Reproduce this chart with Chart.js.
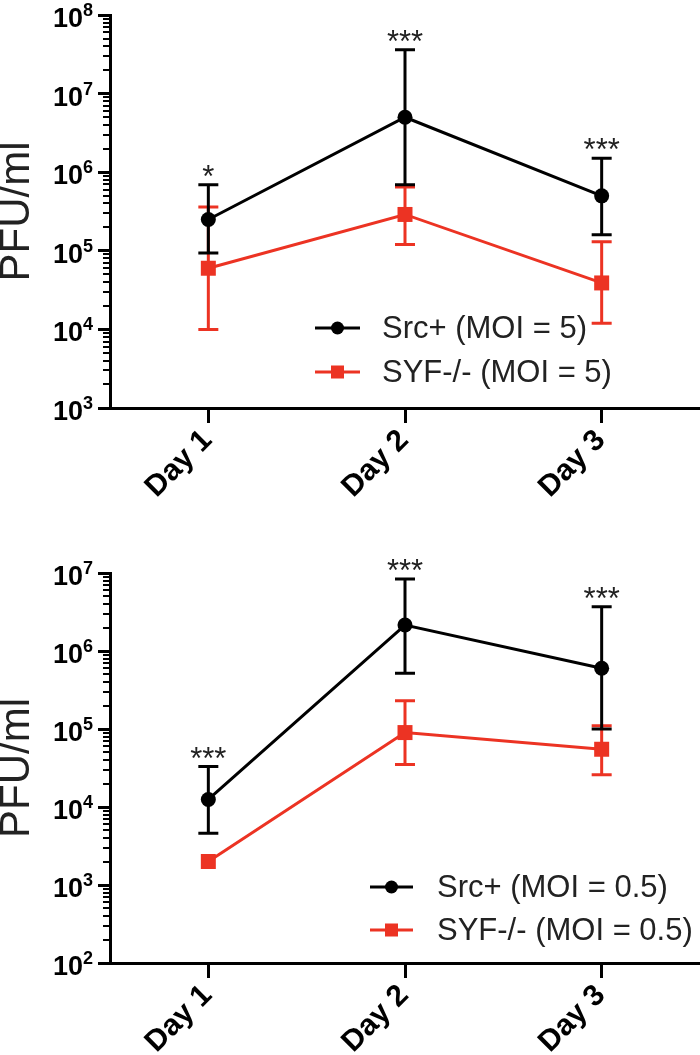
<!DOCTYPE html>
<html>
<head>
<meta charset="utf-8">
<script src="https://cdn.jsdelivr.net/npm/chart.js@4"></script>
<style>
  html, body { margin: 0; padding: 0; background: #fff; overflow: hidden; }
  .panel { position: relative; width: 700px; }
  canvas { display: block; }
</style>
</head>
<body>
<div class="panel" style="height:520px"><canvas id="chartTop"></canvas></div>
<div class="panel" style="height:535px"><canvas id="chartBottom"></canvas></div>
<script>
// --- DATA ---
const days = ['Day 1', 'Day 2', 'Day 3'];

// top panel, MOI = 5
const srcMoi5 = [2.5e5, 5.0e6, 5.0e5];
const srcMoi5Lo = [9.4e4, 6.9e5, 1.6e5];
const srcMoi5Hi = [6.9e5, 3.6e7, 1.5e6];
const syfMoi5 = [6.0e4, 2.9e5, 3.9e4];
const syfMoi5Lo = [1.0e4, 1.2e5, 1.2e4];
const syfMoi5Hi = [3.6e5, 6.5e5, 1.3e5];
const starsMoi5 = ['*', '***', '***'];

// bottom panel, MOI = 0.5
const srcMoi05 = [1.25e4, 2.15e6, 6.0e5];
const srcMoi05Lo = [4.6e3, 5.2e5, 1.0e5];
const srcMoi05Hi = [3.3e4, 8.4e6, 3.7e6];
const syfMoi05 = [2.0e3, 9.0e4, 5.5e4];
const syfMoi05Lo = [null, 3.5e4, 2.6e4];
const syfMoi05Hi = [null, 2.3e5, 1.1e5];
const starsMoi05 = ['***', '***', '***'];

const FONT = "'Liberation Sans', Arial, Helvetica, sans-serif";
const BLACK = '#000000';
const RED = '#ec3323';
Chart.defaults.font.family = FONT;

// --- PLUGINS ---
// error bars, drawn just before each dataset so markers sit on top
const errorBars = {
  id: 'errorBars',
  beforeDatasetDraw(chart, args) {
    const ds = chart.data.datasets[args.index];
    const y = chart.scales.y;
    const ctx = chart.ctx;
    ctx.save();
    ctx.strokeStyle = ds.borderColor;
    ctx.lineWidth = 3;
    args.meta.data.forEach((pt, i) => {
      const lo = ds.errLo[i], hi = ds.errHi[i];
      if (lo == null || hi == null) return;
      const yl = y.getPixelForValue(lo), yh = y.getPixelForValue(hi);
      ctx.beginPath();
      ctx.moveTo(pt.x, yl); ctx.lineTo(pt.x, yh);
      ctx.moveTo(pt.x - 10, yl); ctx.lineTo(pt.x + 10, yl);
      ctx.moveTo(pt.x - 10, yh); ctx.lineTo(pt.x + 10, yh);
      ctx.stroke();
    });
    ctx.restore();
  }
};

// significance stars above the Src+ error bars
const stars = {
  id: 'stars',
  afterDatasetsDraw(chart, args, opts) {
    const ds = chart.data.datasets[0];
    const meta = chart.getDatasetMeta(0);
    const y = chart.scales.y;
    const ctx = chart.ctx;
    ctx.save();
    ctx.font = '31px ' + FONT;
    ctx.fillStyle = '#222';
    ctx.textAlign = 'center';
    ctx.textBaseline = 'alphabetic';
    meta.data.forEach((pt, i) => {
      ctx.fillText(opts.labels[i], pt.x, y.getPixelForValue(ds.errHi[i]) + 2);
    });
    ctx.restore();
  }
};

// log axis: 10^n labels with superscripts, plus minor ticks
const logAxis = {
  id: 'logAxis',
  afterDraw(chart) {
    const s = chart.scales.y;
    const ctx = chart.ctx;
    ctx.save();
    ctx.strokeStyle = BLACK;
    ctx.lineWidth = 2;
    const lo = Math.round(Math.log10(s.min)), hi = Math.round(Math.log10(s.max));
    for (let n = lo; n < hi; n++) {
      for (let k = 2; k <= 9; k++) {
        const py = Math.round(s.getPixelForValue(k * Math.pow(10, n)));
        ctx.beginPath();
        ctx.moveTo(s.right - 7, py);
        ctx.lineTo(s.right, py);
        ctx.stroke();
      }
    }
    ctx.fillStyle = BLACK;
    ctx.textAlign = 'right';
    ctx.textBaseline = 'alphabetic';
    s.ticks.forEach(t => {
      const py = s.getPixelForValue(t.value);
      const exp = String(Math.round(Math.log10(t.value)));
      const supX = s.right - 17;
      ctx.font = 'bold 18px ' + FONT;
      ctx.fillText(exp, supX, py + 1);
      const w = ctx.measureText(exp).width;
      ctx.font = 'bold 27px ' + FONT;
      ctx.fillText('10', supX - w, py + 12);
    });
    ctx.restore();
  }
};

// legend drawn inside the plot
const insideLegend = {
  id: 'insideLegend',
  afterDraw(chart, args, opts) {
    const ctx = chart.ctx;
    ctx.save();
    chart.data.datasets.forEach((ds, i) => {
      const y = opts.y + i * opts.gap;
      const mid = opts.x + opts.lineLen / 2;
      ctx.strokeStyle = ds.borderColor;
      ctx.fillStyle = ds.borderColor;
      ctx.lineWidth = 3;
      ctx.beginPath();
      ctx.moveTo(opts.x, y); ctx.lineTo(opts.x + opts.lineLen, y);
      ctx.stroke();
      if (ds.pointStyle === 'rect') {
        ctx.fillRect(mid - 6.5, y - 6.5, 13, 13);
      } else {
        ctx.beginPath();
        ctx.arc(mid, y, 6.5, 0, Math.PI * 2);
        ctx.fill();
      }
      ctx.font = '31px ' + FONT;
      ctx.fillStyle = '#222';
      ctx.textAlign = 'left';
      ctx.textBaseline = 'middle';
      ctx.fillText(ds.label, opts.textX, y + 1);
    });
    ctx.restore();
  }
};

// --- CHART BUILDER ---
function buildChart(id, cfg) {
  const decades = [];
  for (let v = cfg.yMin; v <= cfg.yMax * 1.0001; v *= 10) decades.push(v);

  return new Chart(document.getElementById(id), {
    type: 'line',
    data: {
      labels: days,
      datasets: [
        {
          label: cfg.srcLabel, data: cfg.src, errLo: cfg.srcLo, errHi: cfg.srcHi,
          borderColor: BLACK, backgroundColor: BLACK, borderWidth: 3,
          pointStyle: 'circle', pointRadius: 7.5, pointBorderWidth: 0, tension: 0, clip: false
        },
        {
          label: cfg.syfLabel, data: cfg.syf, errLo: cfg.syfLo, errHi: cfg.syfHi,
          borderColor: RED, backgroundColor: RED, borderWidth: 3,
          pointStyle: 'rect', pointRadius: 10.6, pointBorderWidth: 0, tension: 0, clip: false
        }
      ]
    },
    options: {
      responsive: true,
      maintainAspectRatio: false,
      animation: false,
      events: [],
      layout: { autoPadding: false, padding: { top: cfg.padTop, right: 0, left: 0, bottom: 0 } },
      plugins: {
        legend: { display: false },
        tooltip: { enabled: false },
        stars: { labels: cfg.stars },
        insideLegend: cfg.legend
      },
      scales: {
        x: {
          type: 'category',
          offset: true,
          afterFit: s => { s.height = cfg.xHeight; s.paddingLeft = 0; s.paddingRight = 0; },
          grid: { offset: false, drawOnChartArea: false, drawTicks: true, tickLength: 15, tickWidth: 3, tickColor: BLACK },
          border: { display: true, color: BLACK, width: 3 },
          ticks: {
            color: BLACK, font: { size: 30, weight: 'bold' },
            minRotation: 45, maxRotation: 45, padding: 0, labelOffset: -1, autoSkip: false
          }
        },
        y: {
          type: 'logarithmic',
          min: cfg.yMin,
          max: cfg.yMax,
          afterBuildTicks: s => { s.ticks = decades.map(v => ({ value: v })); },
          afterFit: s => { s.width = 110; },
          grid: { drawOnChartArea: false, drawTicks: true, tickLength: 12, tickWidth: 3, tickColor: BLACK },
          border: { display: true, color: BLACK, width: 3 },
          ticks: { display: false },
          title: {
            display: true, text: 'PFU/ml', color: '#222',
            font: { size: 42, weight: 'normal', lineHeight: 0.85 },
            padding: { top: 0, bottom: 0 }
          }
        }
      }
    },
    plugins: [errorBars, stars, logAxis, insideLegend]
  });
}

buildChart('chartTop', {
  src: srcMoi5, srcLo: srcMoi5Lo, srcHi: srcMoi5Hi,
  syf: syfMoi5, syfLo: syfMoi5Lo, syfHi: syfMoi5Hi,
  srcLabel: 'Src+ (MOI = 5)', syfLabel: 'SYF-/- (MOI = 5)',
  stars: starsMoi5,
  yMin: 1e3, yMax: 1e8,
  padTop: 15, xHeight: 112,
  legend: { x: 315, y: 328, gap: 44, lineLen: 45, textX: 382 }
});

buildChart('chartBottom', {
  src: srcMoi05, srcLo: srcMoi05Lo, srcHi: srcMoi05Hi,
  syf: syfMoi05, syfLo: syfMoi05Lo, syfHi: syfMoi05Hi,
  srcLabel: 'Src+ (MOI = 0.5)', syfLabel: 'SYF-/- (MOI = 0.5)',
  stars: starsMoi05,
  yMin: 1e2, yMax: 1e7,
  padTop: 53, xHeight: 92,
  legend: { x: 370, y: 367, gap: 43, lineLen: 43, textX: 437 }
});
</script>
</body>
</html>
